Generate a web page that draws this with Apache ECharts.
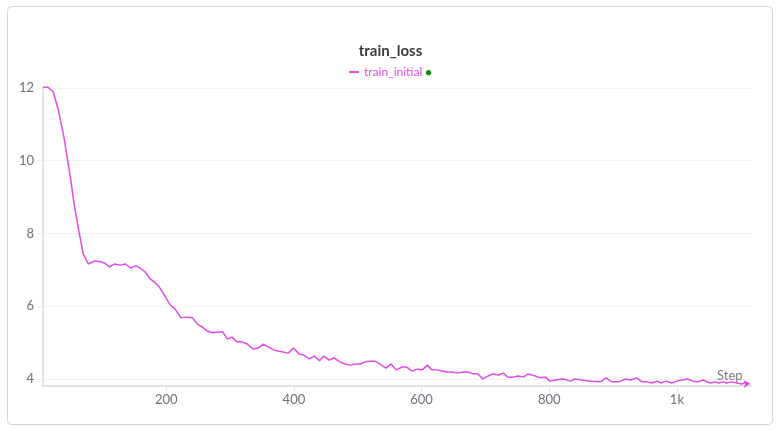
<!DOCTYPE html>
<html>
<head>
<meta charset="utf-8">
<script src="https://cdn.jsdelivr.net/npm/echarts@6/dist/echarts.min.js"></script>
<style>
html,body{margin:0;padding:0;background:#fff;}
#chart{width:781px;height:430px;}
</style>
</head>
<body>
<div id="chart"></div>
<script>
const chartTitle = 'train_loss';
const seriesName = 'train_initial';
const steps = [7,15,23,31,40,50,56,64,70,78,87,97,103,111,119,128,136,144,153,159,167,175,183,189,197,206,214,223,231,241,249,256,264,272,288,296,303,311,319,327,336,344,352,360,368,375,383,391,399,408,415,424,432,440,447,455,463,472,480,488,496,504,512,519,527,535,544,552,560,570,576,585,593,601,609,616,624,632,640,648,656,665,673,681,688,696,704,712,720,728,735,743,751,759,767,778,786,794,801,809,822,833,840,851,865,880,889,898,908,920,928,937,945,953,961,969,975,983,992,1000,1008,1017,1025,1033,1041,1052,1060,1066,1072,1078,1086,1094,1102,1108,1114];
const loss = [12.02,12.02,11.89,11.40,10.63,9.53,8.78,7.99,7.44,7.16,7.24,7.22,7.19,7.08,7.16,7.13,7.16,7.05,7.11,7.05,6.94,6.75,6.64,6.53,6.31,6.04,5.92,5.68,5.70,5.68,5.51,5.43,5.32,5.27,5.30,5.10,5.15,5.02,5.02,4.96,4.82,4.85,4.96,4.88,4.80,4.77,4.74,4.71,4.85,4.69,4.66,4.55,4.63,4.50,4.63,4.52,4.58,4.47,4.41,4.38,4.41,4.41,4.47,4.49,4.49,4.41,4.30,4.41,4.25,4.33,4.33,4.22,4.27,4.25,4.38,4.25,4.25,4.22,4.19,4.19,4.16,4.19,4.19,4.14,4.14,4.00,4.08,4.14,4.11,4.16,4.05,4.05,4.08,4.05,4.14,4.08,4.03,4.05,3.94,3.97,4.00,3.94,4.00,3.97,3.94,3.92,4.03,3.92,3.92,4.00,3.97,4.03,3.92,3.92,3.89,3.94,3.89,3.94,3.89,3.94,3.97,4.00,3.94,3.92,3.97,3.89,3.92,3.89,3.92,3.89,3.92,3.89,3.86,3.92,3.86];
const xTicks = [200,400,600,800,1000];
const yTicks = [4,6,8,10,12];

const lineColor = '#e14be6';
const font = 'Lato';

const seriesData = steps.map((s, i) => {
  if (i === steps.length - 1) {
    return {value: [s, loss[i]], symbol: 'arrow', symbolSize: [6, 6], symbolRotate: -90,
      itemStyle: {color: lineColor, borderWidth: 0}};
  }
  return [s, loss[i]];
});

const chart = echarts.init(document.getElementById('chart'), null, {renderer: 'canvas'});
chart.setOption({
  animation: false,
  backgroundColor: '#fff',
  textStyle: {fontFamily: font},
  title: {
    text: chartTitle, left: 'center', top: 39,
    textStyle: {fontFamily: font, fontSize: 15, fontWeight: 'bold', color: '#3b3b3f'}
  },
  legend: {
    top: 61, left: 'center',
    itemWidth: 10, itemHeight: 2, itemGap: 6,
    icon: 'rect',
    data: [{name: seriesName, icon: 'rect'}],
    formatter: (n) => '{a|' + n + '} {d|●}',
    textStyle: {
      fontFamily: font, fontSize: 12, color: lineColor,
      rich: {a: {fontFamily: font, fontSize: 12, color: lineColor}, d: {fontSize: 11, color: '#108a10'}}
    }
  },
  graphic: [{
    type: 'rect', silent: true, z: -10,
    shape: {x: 7.5, y: 6.5, width: 765, height: 418, r: 4},
    style: {fill: '#fff', stroke: '#d4d4d4', lineWidth: 1}
  }],
  grid: {left: 43, top: 88, width: 708, height: 297.5, containLabel: false},
  xAxis: {
    type: 'value', min: 7, max: 1116,
    name: 'Step', nameLocation: 'end', nameGap: -34,
    nameTextStyle: {fontFamily: font, fontSize: 13, color: '#7a7a85', verticalAlign: 'bottom', align: 'left', padding: [0, 0, 3, 0]},
    axisLine: {show: true, lineStyle: {color: '#e3e3e6', width: 2}},
    axisTick: {show: true, length: 6, lineStyle: {color: '#e3e3e6', width: 1}, customValues: xTicks},
    axisLabel: {
      customValues: xTicks, margin: 8, fontFamily: font, fontSize: 13, color: '#70707a',
      formatter: v => v >= 1000 ? (v / 1000) + 'k' : String(v)
    },
    splitLine: {show: false}
  },
  yAxis: {
    type: 'value', min: 3.82, max: 12,
    axisLine: {show: true, lineStyle: {color: '#e3e3e6', width: 2}},
    axisTick: {show: true, length: 6, lineStyle: {color: '#f0f0f2', width: 1}, customValues: yTicks},
    axisLabel: {customValues: yTicks, margin: 9, fontFamily: font, fontSize: 13, color: '#70707a'},
    splitLine: {show: true, lineStyle: {color: '#f2f2f4', width: 1}},
  },
  series: [{
    name: seriesName, type: 'line', data: seriesData,
    symbol: 'none', showSymbol: true, clip: false,
    lineStyle: {color: lineColor, width: 1.5},
    itemStyle: {color: lineColor},
    emphasis: {disabled: true}
  }]
});
</script>
</body>
</html>
